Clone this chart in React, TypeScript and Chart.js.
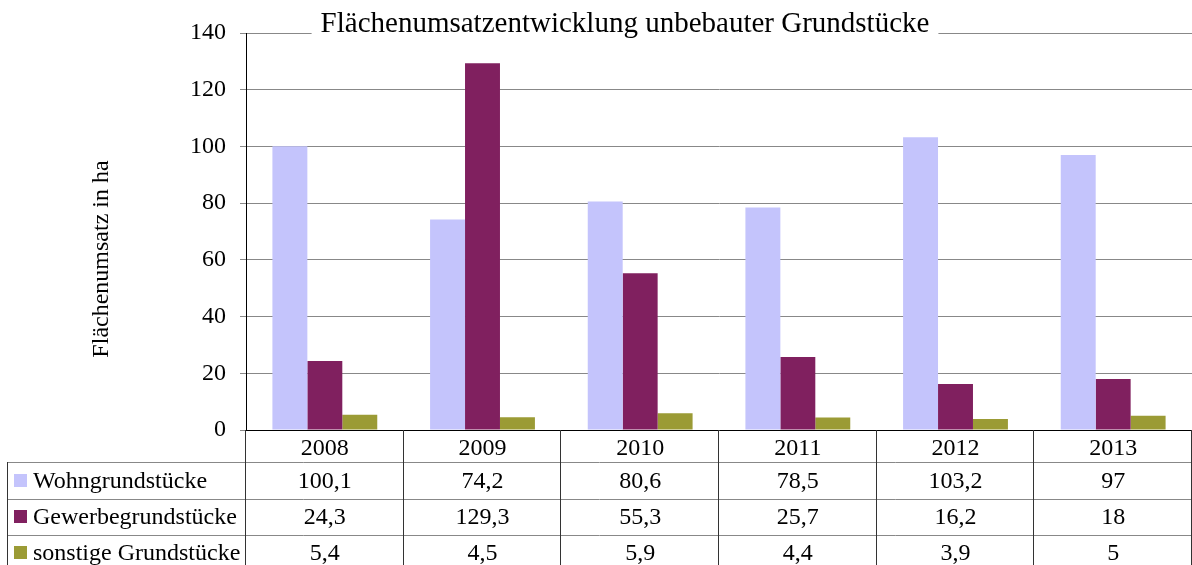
import { useEffect, useRef } from "react";
import { Chart, registerables } from "chart.js";

Chart.register(...registerables);

const categories = ["2008", "2009", "2010", "2011", "2012", "2013"];
const wohn = [100.1, 74.2, 80.6, 78.5, 103.2, 97];
const gewerbe = [24.3, 129.3, 55.3, 25.7, 16.2, 18];
const sonstige = [5.4, 4.5, 5.9, 4.4, 3.9, 5];
const seriesNames = ["Wohngrundstücke", "Gewerbegrundstücke", "sonstige Grundstücke"];
const seriesColors = ["#C4C4FC", "#80205F", "#9B9B35"];
const chartTitle = "Flächenumsatzentwicklung unbebauter Grundstücke";
const yAxisTitle = "Flächenumsatz in ha";
const yMin = 0;
const yMax = 140;
const yStep = 20;

const FONT = "'Liberation Serif', 'Times New Roman', serif";

const fmt = (v: number) => String(v).replace(".", ",");

const tablePlugin = {
  id: "tablePlugin",
  afterDraw(chart: any) {
    const ctx = chart.ctx as CanvasRenderingContext2D;
    const area = chart.chartArea;
    const xScale = chart.scales.x;
    const H = chart.height;
    const n = categories.length;
    const colW = (area.right - area.left) / n;
    const series = [wohn, gewerbe, sonstige];
    ctx.save();

    // Title with white background over the top gridline
    ctx.font = `29px ${FONT}`;
    const tw = ctx.measureText(chartTitle).width;
    const tcx = 625;
    ctx.fillStyle = "#ffffff";
    ctx.fillRect(tcx - tw / 2 - 9, 6, tw + 18, 34);
    ctx.fillStyle = "#000000";
    ctx.textAlign = "center";
    ctx.textBaseline = "alphabetic";
    ctx.fillText(chartTitle, tcx, 32);

    // Y axis title
    ctx.font = `24px ${FONT}`;
    ctx.save();
    ctx.translate(108, 259);
    ctx.rotate(-Math.PI / 2);
    ctx.textAlign = "center";
    ctx.textBaseline = "alphabetic";
    ctx.fillText(yAxisTitle, 0, 0);
    ctx.restore();

    // Table lines
    const hLines = [462, 499, 535];
    ctx.strokeStyle = "#888888";
    ctx.lineWidth = 1;
    hLines.forEach((y) => {
      ctx.beginPath();
      ctx.moveTo(7, y + 0.5);
      ctx.lineTo(area.right, y + 0.5);
      ctx.stroke();
    });
    ctx.strokeStyle = "#333333";
    for (let i = 0; i <= n; i++) {
      const x = Math.round(area.left + i * colW) - 0.5;
      ctx.beginPath();
      ctx.moveTo(x, area.bottom);
      ctx.lineTo(x, H);
      ctx.stroke();
    }
    ctx.beginPath();
    ctx.moveTo(7.5, hLines[0]);
    ctx.lineTo(7.5, H);
    ctx.stroke();

    // Header and values
    ctx.fillStyle = "#000000";
    ctx.textAlign = "center";
    const baselines = [455, 488, 524, 560];
    for (let i = 0; i < n; i++) {
      const cx = xScale.getPixelForValue(i);
      ctx.fillText(categories[i], cx, baselines[0]);
      series.forEach((s, k) => {
        ctx.fillText(fmt(s[i]), cx, baselines[k + 1]);
      });
    }

    // Legend keys and names
    ctx.textAlign = "left";
    seriesNames.forEach((name, k) => {
      const b = baselines[k + 1];
      ctx.fillStyle = seriesColors[k];
      ctx.fillRect(14, b - 14, 13, 13);
      ctx.fillStyle = "#000000";
      ctx.fillText(name, 33, b);
    });

    ctx.restore();
  },
};

export default function App() {
  const ref = useRef<HTMLCanvasElement | null>(null);
  useEffect(() => {
    if (!ref.current) return;
    const chart = new Chart(ref.current, {
      type: "bar",
      data: {
        labels: categories,
        datasets: [
          { label: seriesNames[0], data: wohn, backgroundColor: seriesColors[0] },
          { label: seriesNames[1], data: gewerbe, backgroundColor: seriesColors[1] },
          { label: seriesNames[2], data: sonstige, backgroundColor: seriesColors[2] },
        ],
      },
      options: {
        responsive: false,
        animation: false,
        devicePixelRatio: 1,
        layout: { padding: { left: 0, right: 0, top: 33, bottom: 0 } },
        datasets: {
          bar: { categoryPercentage: 0.665, barPercentage: 1 },
        },
        plugins: {
          legend: { display: false },
          title: { display: false },
          tooltip: { enabled: false },
        },
        scales: {
          x: {
            grid: { drawOnChartArea: false, drawTicks: false },
            border: { color: "#000000", width: 1 },
            ticks: { display: false },
            afterFit: (scale: any) => {
              scale.height = 135;
            },
          },
          y: {
            min: yMin,
            max: yMax,
            grid: { color: "#888888", tickLength: 6 },
            border: { color: "#000000", width: 1 },
            ticks: {
              stepSize: yStep,
              padding: 14,
              color: "#000000",
              font: { family: FONT, size: 24 },
            },
            afterFit: (scale: any) => {
              scale.width = 246;
            },
          },
        },
      },
      plugins: [tablePlugin],
    });
    return () => chart.destroy();
  }, []);
  return (
    <div style={{ position: "absolute", left: 0, top: 0, width: 1192, height: 565, background: "#fff" }}>
      <canvas ref={ref} width={1192} height={565} />
    </div>
  );
}
